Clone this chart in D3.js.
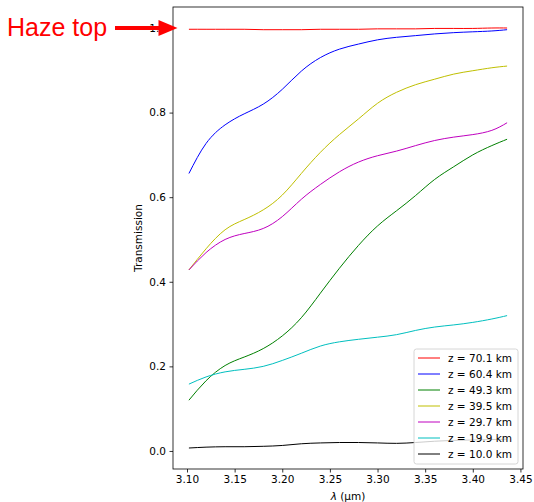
<!DOCTYPE html>
<html>
<head>
<meta charset="utf-8">
<script src="https://cdn.jsdelivr.net/npm/d3@7"></script>
<style>
body { margin: 0; background: #fff; }
svg { display: block; font-family: "DejaVu Sans", sans-serif; }
</style>
</head>
<body>
<div id="chart"></div>
<script>
// wavelength grid (um)
var wavelength = [3.102, 3.12, 3.14, 3.16, 3.18, 3.20, 3.22, 3.24, 3.26, 3.28, 3.30, 3.32, 3.34, 3.36, 3.38, 3.40, 3.42, 3.436];

var z701 = [0.997, 0.997, 0.997, 0.997, 0.996, 0.996, 0.996, 0.997, 0.997, 0.997, 0.998, 0.998, 0.998, 0.999, 0.999, 0.999, 1.000, 1.000];
var z604 = [0.656, 0.727, 0.771, 0.797, 0.820, 0.855, 0.898, 0.930, 0.950, 0.962, 0.972, 0.978, 0.982, 0.986, 0.989, 0.991, 0.993, 0.996];
var z493 = [0.120, 0.166, 0.202, 0.222, 0.242, 0.272, 0.315, 0.373, 0.432, 0.486, 0.532, 0.568, 0.604, 0.642, 0.672, 0.700, 0.722, 0.737];
var z395 = [0.428, 0.478, 0.523, 0.547, 0.570, 0.605, 0.656, 0.706, 0.748, 0.785, 0.822, 0.848, 0.866, 0.879, 0.891, 0.899, 0.906, 0.910];
var z297 = [0.428, 0.469, 0.500, 0.514, 0.526, 0.554, 0.595, 0.630, 0.660, 0.683, 0.698, 0.709, 0.722, 0.734, 0.742, 0.748, 0.758, 0.776];
var z199 = [0.158, 0.175, 0.187, 0.193, 0.200, 0.214, 0.231, 0.248, 0.258, 0.264, 0.269, 0.275, 0.285, 0.293, 0.298, 0.304, 0.312, 0.320];
var z100 = [0.007, 0.009, 0.010, 0.010, 0.011, 0.013, 0.017, 0.019, 0.020, 0.020, 0.019, 0.018, 0.020, 0.023, 0.025, 0.026, 0.027, 0.028];

var labels = ["z = 70.1 km", "z = 60.4 km", "z = 49.3 km", "z = 39.5 km", "z = 29.7 km", "z = 19.9 km", "z = 10.0 km"];
var colors = ["#ff0000", "#0000ff", "#008000", "#bfbf00", "#bf00bf", "#00bfbf", "#000000"];
var series = [z701, z604, z493, z395, z297, z199, z100];

var xTicks = [3.10, 3.15, 3.20, 3.25, 3.30, 3.35, 3.40, 3.45];
var yTicks = [0.0, 0.2, 0.4, 0.6, 0.8, 1.0];

var margin = {top: 7, right: 11, bottom: 33, left: 173},
    width = 534 - margin.left - margin.right,
    height = 502 - margin.top - margin.bottom;

var svg = d3.select("#chart")
  .append("svg")
    .attr("width", 534)
    .attr("height", 502);
var g = svg.append("g")
    .attr("transform", "translate(" + margin.left + "," + margin.top + ")");

// matplotlib style 5% padding
var xe = d3.extent(wavelength);
var xp = (xe[1] - xe[0]) * 0.05;
var allv = d3.merge(series);
var ye = d3.extent(allv);
var yp = (ye[1] - ye[0]) * 0.05;

var x = d3.scaleLinear().domain([xe[0] - xp, xe[1] + xp]).range([0, width]);
var y = d3.scaleLinear().domain([ye[0] - yp, ye[1] + yp]).range([height, 0]);

var line = d3.line()
    .x(function(d, i) { return x(wavelength[i]); })
    .y(function(d) { return y(d); })
    .curve(d3.curveNatural);

series.forEach(function(s, k) {
  g.append("path")
    .datum(s)
    .attr("fill", "none")
    .attr("stroke", colors[k])
    .attr("stroke-width", 1)
    .attr("d", line);
});

// axes
var xa = g.append("g")
    .attr("transform", "translate(0," + height + ")")
    .call(d3.axisBottom(x).tickValues(xTicks).tickFormat(d3.format(".2f")).tickSizeOuter(0).tickSize(3.5).tickPadding(3.5));
var ya = g.append("g")
    .call(d3.axisLeft(y).tickValues(yTicks).tickFormat(d3.format(".1f")).tickSizeOuter(0).tickSize(3.5).tickPadding(3.5));
[xa, ya].forEach(function(a) {
  a.select(".domain").remove();
  a.selectAll("text").style("font-size", "10.5px").style("font-family", "DejaVu Sans").attr("fill", "#000");
  a.selectAll("line").attr("stroke", "#000").attr("stroke-width", 0.8);
});

// frame
g.append("rect")
    .attr("width", width)
    .attr("height", height)
    .attr("fill", "none")
    .attr("stroke", "#000")
    .attr("stroke-width", 0.8);

// axis labels
g.append("text")
    .attr("transform", "rotate(-90)")
    .attr("x", -height / 2)
    .attr("y", -31)
    .style("text-anchor", "middle")
    .style("font-size", "10.5px")
    .text("Transmission");

var xl = g.append("text")
    .attr("x", width / 2)
    .attr("y", height + 31)
    .style("text-anchor", "middle")
    .style("font-size", "10.5px");
xl.append("tspan").style("font-style", "italic").text("\u03bb");
xl.append("tspan").text(" (\u03bcm)");

// legend
var lg = g.append("g")
    .attr("transform", "translate(" + (width - 109) + "," + (height - 120) + ")");
lg.append("rect")
    .attr("width", 104)
    .attr("height", 115)
    .attr("rx", 2.5)
    .attr("fill", "#fff")
    .attr("fill-opacity", 0.8)
    .attr("stroke", "#cccccc")
    .attr("stroke-width", 0.8);
labels.forEach(function(t, k) {
  var yy = 9 + k * 16;
  lg.append("line")
    .attr("x1", 4).attr("x2", 26)
    .attr("y1", yy).attr("y2", yy)
    .attr("stroke", colors[k])
    .attr("stroke-width", 1);
  lg.append("text")
    .attr("x", 34)
    .attr("y", yy)
    .attr("dy", "0.35em")
    .style("font-size", "10.5px")
    .text(t);
});

// annotation
var tipX = margin.left + x(3.09), tipY = margin.top + y(1.0);
svg.append("line")
    .attr("x1", 115).attr("x2", tipX - 16)
    .attr("y1", tipY).attr("y2", tipY)
    .attr("stroke", "#ff0000")
    .attr("stroke-width", 4);
svg.append("path")
    .attr("d", "M" + tipX + "," + tipY + "L" + (tipX - 19) + "," + (tipY - 8) + "L" + (tipX - 19) + "," + (tipY + 8) + "Z")
    .attr("fill", "#ff0000");
svg.append("text")
    .attr("x", 7)
    .attr("y", tipY + 7.5)
    .attr("fill", "#ff0000")
    .style("font-family", "Liberation Sans, sans-serif")
    .style("font-size", "25px")
    .text("Haze top");
</script>
</body>
</html>
